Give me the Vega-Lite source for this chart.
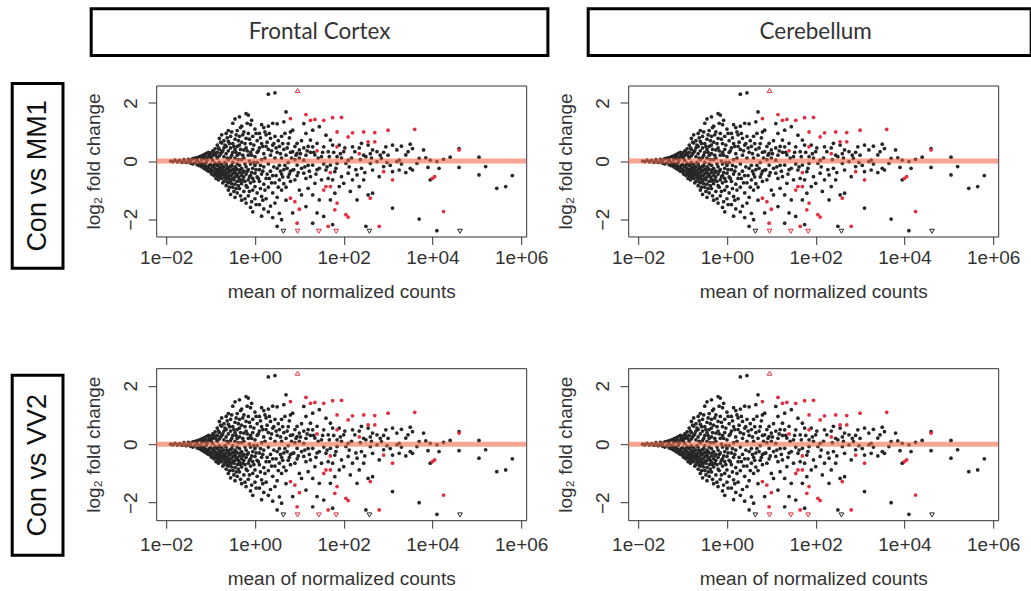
{
  "$schema": "https://vega.github.io/schema/vega-lite/v6.json",
  "background": "white",
  "padding": {"left": 10.2, "top": 6.8, "right": 0, "bottom": 0},
  "config": {
    "view": {"stroke": null},
    "axis": {"labelFont": "Liberation Sans", "titleFont": "Liberation Sans", "labelFontSize": 19, "titleFontSize": 19, "titleFontWeight": "normal", "labelColor": "#333", "titleColor": "#333", "tickColor": "#333", "tickSize": 8, "tickWidth": 1, "domain": false, "grid": false, "labelFlush": false, "labelOverlap": false}
  },
  "datasets": {
    "ma": [
      {"mean":0.0126,"lfc":0,"sig":"no"},{"mean":0.0141,"lfc":-0.02,"sig":"no"},{"mean":0.0158,"lfc":0.03,"sig":"no"},{"mean":0.0178,"lfc":-0.03,"sig":"no"},{"mean":0.02,"lfc":0.02,"sig":"no"},{"mean":0.0224,"lfc":-0.04,"sig":"no"},{"mean":0.0251,"lfc":0.05,"sig":"no"},{"mean":0.0251,"lfc":-0.02,"sig":"no"},{"mean":0.0282,"lfc":-0.05,"sig":"no"},{"mean":0.0316,"lfc":0.06,"sig":"no"},{"mean":0.0316,"lfc":-0.03,"sig":"no"},{"mean":0.0355,"lfc":-0.07,"sig":"no"},{"mean":0.0355,"lfc":0.03,"sig":"no"},{"mean":0.0398,"lfc":0.08,"sig":"no"},{"mean":0.0398,"lfc":-0.1,"sig":"no"},{"mean":0.0447,"lfc":0.1,"sig":"no"},{"mean":0.0447,"lfc":-0.05,"sig":"no"},{"mean":0.0501,"lfc":-0.13,"sig":"no"},{"mean":0.0501,"lfc":0.12,"sig":"no"},{"mean":0.0501,"lfc":0.02,"sig":"no"},
      {"mean":0.0562,"lfc":0.15,"sig":"no"},{"mean":0.0562,"lfc":-0.16,"sig":"no"},{"mean":0.0562,"lfc":-0.06,"sig":"no"},{"mean":0.0631,"lfc":0.18,"sig":"no"},{"mean":0.0631,"lfc":-0.2,"sig":"no"},{"mean":0.0631,"lfc":0.05,"sig":"no"},{"mean":0.0631,"lfc":-0.1,"sig":"no"},{"mean":0.0708,"lfc":0.22,"sig":"no"},{"mean":0.0708,"lfc":-0.25,"sig":"no"},{"mean":0.0708,"lfc":-0.14,"sig":"no"},{"mean":0.0708,"lfc":0.1,"sig":"no"},{"mean":0.0794,"lfc":0.26,"sig":"no"},{"mean":0.0794,"lfc":-0.3,"sig":"no"},{"mean":0.0794,"lfc":-0.18,"sig":"no"},{"mean":0.0794,"lfc":0.06,"sig":"no"},{"mean":0.0794,"lfc":-0.05,"sig":"no"},{"mean":0.0891,"lfc":0.3,"sig":"no"},{"mean":0.0891,"lfc":-0.22,"sig":"no"},{"mean":0.0891,"lfc":0.15,"sig":"no"},{"mean":0.0891,"lfc":-0.35,"sig":"no"},
      {"mean":0.1,"lfc":0.28,"sig":"no"},{"mean":0.1,"lfc":0.12,"sig":"no"},{"mean":0.1,"lfc":-0.12,"sig":"no"},{"mean":0.1,"lfc":-0.28,"sig":"no"},{"mean":0.1,"lfc":-0.38,"sig":"no"},{"mean":0.112,"lfc":0.35,"sig":"no"},{"mean":0.112,"lfc":0.2,"sig":"no"},{"mean":0.112,"lfc":-0.2,"sig":"no"},{"mean":0.112,"lfc":-0.33,"sig":"no"},{"mean":0.112,"lfc":0.02,"sig":"no"},{"mean":0.126,"lfc":0.42,"sig":"no"},{"mean":0.126,"lfc":0.25,"sig":"no"},{"mean":0.126,"lfc":-0.08,"sig":"no"},{"mean":0.126,"lfc":-0.25,"sig":"no"},{"mean":0.126,"lfc":-0.4,"sig":"no"},{"mean":0.126,"lfc":-0.45,"sig":"no"},{"mean":0.141,"lfc":0.55,"sig":"no"},{"mean":0.141,"lfc":0.3,"sig":"no"},{"mean":0.141,"lfc":0.1,"sig":"no"},{"mean":0.141,"lfc":-0.15,"sig":"no"},{"mean":0.141,"lfc":-0.3,"sig":"no"},{"mean":0.141,"lfc":-0.5,"sig":"no"},
      {"mean":0.158,"lfc":0.78,"sig":"no"},{"mean":0.158,"lfc":0.4,"sig":"no"},{"mean":0.158,"lfc":0.18,"sig":"no"},{"mean":0.158,"lfc":-0.05,"sig":"no"},{"mean":0.158,"lfc":-0.22,"sig":"no"},{"mean":0.158,"lfc":-0.35,"sig":"no"},{"mean":0.158,"lfc":-0.55,"sig":"no"},{"mean":0.178,"lfc":0.9,"sig":"no"},{"mean":0.178,"lfc":0.62,"sig":"no"},{"mean":0.178,"lfc":0.3,"sig":"no"},{"mean":0.178,"lfc":-0.12,"sig":"no"},{"mean":0.178,"lfc":-0.28,"sig":"no"},{"mean":0.178,"lfc":-0.42,"sig":"no"},{"mean":0.178,"lfc":-0.6,"sig":"no"},{"mean":0.2,"lfc":0.7,"sig":"no"},{"mean":0.2,"lfc":0.45,"sig":"no"},{"mean":0.2,"lfc":0.15,"sig":"no"},{"mean":0.2,"lfc":-0.2,"sig":"no"},{"mean":0.2,"lfc":-0.35,"sig":"no"},{"mean":0.2,"lfc":-0.5,"sig":"no"},{"mean":0.2,"lfc":-0.7,"sig":"no"},
      {"mean":0.224,"lfc":0.95,"sig":"no"},{"mean":0.224,"lfc":0.5,"sig":"no"},{"mean":0.224,"lfc":0.25,"sig":"no"},{"mean":0.224,"lfc":-0.1,"sig":"no"},{"mean":0.224,"lfc":-0.3,"sig":"no"},{"mean":0.224,"lfc":-0.45,"sig":"no"},{"mean":0.224,"lfc":-0.62,"sig":"no"},{"mean":0.224,"lfc":-0.85,"sig":"no"},{"mean":0.251,"lfc":1.05,"sig":"no"},{"mean":0.251,"lfc":0.68,"sig":"no"},{"mean":0.251,"lfc":0.35,"sig":"no"},{"mean":0.251,"lfc":0.05,"sig":"no"},{"mean":0.251,"lfc":-0.25,"sig":"no"},{"mean":0.251,"lfc":-0.4,"sig":"no"},{"mean":0.251,"lfc":-0.55,"sig":"no"},{"mean":0.251,"lfc":-0.75,"sig":"no"},{"mean":0.251,"lfc":-1.0,"sig":"no"},
      {"mean":0.282,"lfc":0.85,"sig":"no"},{"mean":0.282,"lfc":0.45,"sig":"no"},{"mean":0.282,"lfc":0.12,"sig":"no"},{"mean":0.282,"lfc":-0.18,"sig":"no"},{"mean":0.282,"lfc":-0.32,"sig":"no"},{"mean":0.282,"lfc":-0.5,"sig":"no"},{"mean":0.282,"lfc":-0.68,"sig":"no"},{"mean":0.282,"lfc":-1.15,"sig":"no"},{"mean":0.316,"lfc":1.3,"sig":"no"},{"mean":0.316,"lfc":0.6,"sig":"no"},{"mean":0.316,"lfc":0.3,"sig":"no"},{"mean":0.316,"lfc":-0.05,"sig":"no"},{"mean":0.316,"lfc":-0.28,"sig":"no"},{"mean":0.316,"lfc":-0.42,"sig":"no"},{"mean":0.316,"lfc":-0.6,"sig":"no"},{"mean":0.316,"lfc":-0.9,"sig":"no"},
      {"mean":0.355,"lfc":1.45,"sig":"no"},{"mean":0.355,"lfc":0.75,"sig":"no"},{"mean":0.355,"lfc":0.4,"sig":"no"},{"mean":0.355,"lfc":0.1,"sig":"no"},{"mean":0.355,"lfc":-0.2,"sig":"no"},{"mean":0.355,"lfc":-0.38,"sig":"no"},{"mean":0.355,"lfc":-0.55,"sig":"no"},{"mean":0.355,"lfc":-0.8,"sig":"no"},{"mean":0.355,"lfc":-1.25,"sig":"no"},{"mean":0.398,"lfc":1.05,"sig":"no"},{"mean":0.398,"lfc":0.5,"sig":"no"},{"mean":0.398,"lfc":0.2,"sig":"no"},{"mean":0.398,"lfc":-0.1,"sig":"no"},{"mean":0.398,"lfc":-0.3,"sig":"no"},{"mean":0.398,"lfc":-0.48,"sig":"no"},{"mean":0.398,"lfc":-0.7,"sig":"no"},{"mean":0.398,"lfc":-1.1,"sig":"no"},
      {"mean":0.447,"lfc":1.52,"sig":"no"},{"mean":0.447,"lfc":0.85,"sig":"no"},{"mean":0.447,"lfc":0.55,"sig":"no"},{"mean":0.447,"lfc":0.25,"sig":"no"},{"mean":0.447,"lfc":-0.15,"sig":"no"},{"mean":0.447,"lfc":-0.4,"sig":"no"},{"mean":0.447,"lfc":-0.62,"sig":"no"},{"mean":0.447,"lfc":-0.95,"sig":"no"},{"mean":0.501,"lfc":1.2,"sig":"no"},{"mean":0.501,"lfc":0.65,"sig":"no"},{"mean":0.501,"lfc":0.05,"sig":"no"},{"mean":0.501,"lfc":-0.25,"sig":"no"},{"mean":0.501,"lfc":-0.5,"sig":"no"},{"mean":0.501,"lfc":-0.78,"sig":"no"},{"mean":0.501,"lfc":-1.35,"sig":"no"},
      {"mean":0.562,"lfc":1.0,"sig":"no"},{"mean":0.562,"lfc":0.38,"sig":"no"},{"mean":0.562,"lfc":0.1,"sig":"no"},{"mean":0.562,"lfc":-0.35,"sig":"no"},{"mean":0.562,"lfc":-0.55,"sig":"no"},{"mean":0.562,"lfc":-1.05,"sig":"no"},{"mean":0.631,"lfc":1.63,"sig":"no"},{"mean":0.631,"lfc":0.78,"sig":"no"},{"mean":0.631,"lfc":0.45,"sig":"no"},{"mean":0.631,"lfc":-0.2,"sig":"no"},{"mean":0.631,"lfc":-0.45,"sig":"no"},{"mean":0.631,"lfc":-0.85,"sig":"no"},{"mean":0.631,"lfc":-1.45,"sig":"no"},{"mean":0.708,"lfc":1.58,"sig":"no"},{"mean":0.708,"lfc":0.95,"sig":"no"},{"mean":0.708,"lfc":0.2,"sig":"no"},{"mean":0.708,"lfc":-0.3,"sig":"no"},{"mean":0.708,"lfc":-0.65,"sig":"no"},{"mean":0.708,"lfc":-1.2,"sig":"no"},
      {"mean":0.794,"lfc":1.25,"sig":"no"},{"mean":0.794,"lfc":0.6,"sig":"no"},{"mean":0.794,"lfc":0.3,"sig":"no"},{"mean":0.794,"lfc":-0.1,"sig":"no"},{"mean":0.794,"lfc":-0.5,"sig":"no"},{"mean":0.794,"lfc":-0.75,"sig":"no"},{"mean":0.794,"lfc":-1.6,"sig":"no"},{"mean":0.891,"lfc":0.85,"sig":"no"},{"mean":0.891,"lfc":0.4,"sig":"no"},{"mean":0.891,"lfc":-0.25,"sig":"no"},{"mean":0.891,"lfc":-0.6,"sig":"no"},{"mean":0.891,"lfc":-1.0,"sig":"no"},{"mean":0.891,"lfc":-1.75,"sig":"no"},{"mean":1,"lfc":1.1,"sig":"no"},{"mean":1,"lfc":0.15,"sig":"no"},{"mean":1,"lfc":-0.15,"sig":"no"},{"mean":1,"lfc":-0.42,"sig":"no"},{"mean":1,"lfc":-0.88,"sig":"no"},{"mean":1,"lfc":-1.3,"sig":"no"},
      {"mean":1.12,"lfc":0.7,"sig":"no"},{"mean":1.12,"lfc":0.3,"sig":"no"},{"mean":1.12,"lfc":-0.05,"sig":"no"},{"mean":1.12,"lfc":-0.55,"sig":"no"},{"mean":1.12,"lfc":-1.1,"sig":"no"},{"mean":1.26,"lfc":0.95,"sig":"no"},{"mean":1.26,"lfc":0.45,"sig":"no"},{"mean":1.26,"lfc":-0.3,"sig":"no"},{"mean":1.26,"lfc":-0.7,"sig":"no"},{"mean":1.26,"lfc":-1.5,"sig":"no"},{"mean":1.41,"lfc":1.25,"sig":"no"},{"mean":1.41,"lfc":0.6,"sig":"no"},{"mean":1.41,"lfc":0.05,"sig":"no"},{"mean":1.41,"lfc":-0.45,"sig":"no"},{"mean":1.41,"lfc":-1.22,"sig":"no"},{"mean":1.41,"lfc":-1.9,"sig":"no"},{"mean":1.58,"lfc":1.15,"sig":"no"},{"mean":1.58,"lfc":0.25,"sig":"no"},{"mean":1.58,"lfc":-0.2,"sig":"no"},{"mean":1.58,"lfc":-0.8,"sig":"no"},{"mean":1.58,"lfc":-1.65,"sig":"no"},
      {"mean":1.78,"lfc":0.9,"sig":"no"},{"mean":1.78,"lfc":0.5,"sig":"no"},{"mean":1.78,"lfc":-0.6,"sig":"no"},{"mean":1.78,"lfc":-1.3,"sig":"no"},{"mean":2,"lfc":2.3,"sig":"no"},{"mean":2,"lfc":1.2,"sig":"no"},{"mean":2,"lfc":0.4,"sig":"no"},{"mean":2,"lfc":-0.1,"sig":"no"},{"mean":2,"lfc":-0.9,"sig":"no"},{"mean":2,"lfc":-1.75,"sig":"no"},{"mean":2.24,"lfc":0.78,"sig":"no"},{"mean":2.24,"lfc":0.2,"sig":"no"},{"mean":2.24,"lfc":-0.35,"sig":"no"},{"mean":2.24,"lfc":-1.55,"sig":"no"},{"mean":2.51,"lfc":1.3,"sig":"no"},{"mean":2.51,"lfc":0.55,"sig":"no"},{"mean":2.51,"lfc":-0.5,"sig":"no"},{"mean":2.51,"lfc":-1.1,"sig":"no"},{"mean":2.51,"lfc":-1.95,"sig":"no"},
      {"mean":2.82,"lfc":2.35,"sig":"no"},{"mean":2.82,"lfc":0.85,"sig":"no"},{"mean":2.82,"lfc":0.1,"sig":"no"},{"mean":2.82,"lfc":-0.75,"sig":"no"},{"mean":2.82,"lfc":-1.45,"sig":"no"},{"mean":3.16,"lfc":1.28,"sig":"no"},{"mean":3.16,"lfc":0.3,"sig":"no"},{"mean":3.16,"lfc":-0.25,"sig":"no"},{"mean":3.16,"lfc":-1.25,"sig":"no"},{"mean":3.16,"lfc":-2.25,"sig":"no"},{"mean":3.55,"lfc":0.5,"sig":"no"},{"mean":3.55,"lfc":-0.15,"sig":"no"},{"mean":3.55,"lfc":-0.65,"sig":"no"},{"mean":3.55,"lfc":-1.8,"sig":"no"},{"mean":3.98,"lfc":0.85,"sig":"no"},{"mean":3.98,"lfc":0.1,"sig":"no"},{"mean":3.98,"lfc":-0.45,"sig":"no"},{"mean":3.98,"lfc":-1.0,"sig":"no"},{"mean":3.98,"lfc":-2.02,"sig":"no"},
      {"mean":4.47,"lfc":1.35,"sig":"no"},{"mean":4.47,"lfc":0.4,"sig":"no"},{"mean":4.47,"lfc":-0.3,"sig":"no"},{"mean":4.47,"lfc":-0.78,"sig":"no"},{"mean":5.01,"lfc":1.69,"sig":"no"},{"mean":5.01,"lfc":0.2,"sig":"no"},{"mean":5.01,"lfc":-0.9,"sig":"no"},{"mean":5.01,"lfc":-1.35,"sig":"no"},{"mean":5.62,"lfc":0.6,"sig":"no"},{"mean":5.62,"lfc":-0.05,"sig":"no"},{"mean":5.62,"lfc":-0.55,"sig":"no"},{"mean":6.31,"lfc":1.0,"sig":"no"},{"mean":6.31,"lfc":0.3,"sig":"no"},{"mean":6.31,"lfc":-0.35,"sig":"no"},{"mean":6.31,"lfc":-0.7,"sig":"no"},{"mean":7.08,"lfc":1.06,"sig":"no"},{"mean":7.08,"lfc":0.32,"sig":"no"},{"mean":7.08,"lfc":-0.31,"sig":"no"},{"mean":7.08,"lfc":-1.79,"sig":"no"},
      {"mean":7.94,"lfc":0.5,"sig":"no"},{"mean":7.94,"lfc":0.05,"sig":"no"},{"mean":7.94,"lfc":-0.65,"sig":"no"},{"mean":8.91,"lfc":0.61,"sig":"no"},{"mean":8.91,"lfc":0.26,"sig":"no"},{"mean":8.91,"lfc":-0.14,"sig":"no"},{"mean":8.91,"lfc":-0.5,"sig":"no"},{"mean":10,"lfc":0.38,"sig":"no"},{"mean":10,"lfc":-1.0,"sig":"no"},{"mean":10,"lfc":0.1,"sig":"no"},{"mean":11.2,"lfc":0.7,"sig":"no"},{"mean":11.2,"lfc":-0.25,"sig":"no"},{"mean":11.2,"lfc":-1.17,"sig":"no"},{"mean":12.6,"lfc":1.29,"sig":"no"},{"mean":12.6,"lfc":0.45,"sig":"no"},{"mean":12.6,"lfc":0.03,"sig":"no"},{"mean":12.6,"lfc":-0.42,"sig":"no"},
      {"mean":14.1,"lfc":0.95,"sig":"no"},{"mean":14.1,"lfc":0.2,"sig":"no"},{"mean":14.1,"lfc":-0.6,"sig":"no"},{"mean":14.1,"lfc":-1.57,"sig":"no"},{"mean":15.8,"lfc":0.5,"sig":"no"},{"mean":15.8,"lfc":-0.15,"sig":"no"},{"mean":15.8,"lfc":-0.94,"sig":"no"},{"mean":17.8,"lfc":0.72,"sig":"no"},{"mean":17.8,"lfc":0.3,"sig":"no"},{"mean":17.8,"lfc":-0.54,"sig":"no"},{"mean":20,"lfc":1.06,"sig":"no"},{"mean":20,"lfc":0.49,"sig":"no"},{"mean":20,"lfc":-0.14,"sig":"no"},{"mean":20,"lfc":-1.17,"sig":"no"},{"mean":20,"lfc":-2.14,"sig":"no"},{"mean":22.4,"lfc":0.21,"sig":"no"},{"mean":22.4,"lfc":-0.77,"sig":"no"},{"mean":25.1,"lfc":0.61,"sig":"no"},{"mean":25.1,"lfc":-0.3,"sig":"no"},{"mean":25.1,"lfc":-1.79,"sig":"no"},
      {"mean":28.2,"lfc":1.18,"sig":"no"},{"mean":28.2,"lfc":-0.25,"sig":"no"},{"mean":28.2,"lfc":-1.34,"sig":"no"},{"mean":31.6,"lfc":0.15,"sig":"no"},{"mean":31.6,"lfc":-0.65,"sig":"no"},{"mean":35.5,"lfc":0.49,"sig":"no"},{"mean":35.5,"lfc":-0.1,"sig":"no"},{"mean":35.5,"lfc":-1.91,"sig":"no"},{"mean":39.8,"lfc":0.89,"sig":"no"},{"mean":39.8,"lfc":-0.31,"sig":"no"},{"mean":44.7,"lfc":0.32,"sig":"no"},{"mean":44.7,"lfc":-0.6,"sig":"no"},{"mean":50.1,"lfc":-1.34,"sig":"no"},{"mean":50.1,"lfc":0.72,"sig":"no"},{"mean":50.1,"lfc":-0.14,"sig":"no"},{"mean":56.2,"lfc":-0.65,"sig":"no"},{"mean":56.2,"lfc":0.55,"sig":"no"},{"mean":56.2,"lfc":-2.19,"sig":"no"},
      {"mean":63.1,"lfc":-0.37,"sig":"no"},{"mean":63.1,"lfc":-1.11,"sig":"no"},{"mean":70.8,"lfc":0.15,"sig":"no"},{"mean":70.8,"lfc":-0.08,"sig":"no"},{"mean":79.4,"lfc":0.55,"sig":"no"},{"mean":79.4,"lfc":-0.88,"sig":"no"},{"mean":89.1,"lfc":-0.54,"sig":"no"},{"mean":89.1,"lfc":0.1,"sig":"no"},{"mean":100,"lfc":0.32,"sig":"no"},{"mean":100,"lfc":-0.77,"sig":"no"},{"mean":112,"lfc":-0.08,"sig":"no"},{"mean":126,"lfc":-0.42,"sig":"no"},{"mean":126,"lfc":0.03,"sig":"no"},{"mean":141,"lfc":-1.05,"sig":"no"},{"mean":158,"lfc":0.49,"sig":"no"},{"mean":158,"lfc":-0.65,"sig":"no"},{"mean":178,"lfc":0.32,"sig":"no"},{"mean":200,"lfc":-0.48,"sig":"no"},{"mean":200,"lfc":-1.34,"sig":"no"},
      {"mean":224,"lfc":-0.88,"sig":"no"},{"mean":224,"lfc":0.45,"sig":"no"},{"mean":251,"lfc":0.61,"sig":"no"},{"mean":251,"lfc":-0.25,"sig":"no"},{"mean":282,"lfc":-0.65,"sig":"no"},{"mean":282,"lfc":0.2,"sig":"no"},{"mean":316,"lfc":0.15,"sig":"no"},{"mean":316,"lfc":-2.25,"sig":"no"},{"mean":355,"lfc":0.55,"sig":"no"},{"mean":355,"lfc":-1.17,"sig":"no"},{"mean":398,"lfc":-0.08,"sig":"no"},{"mean":398,"lfc":0.25,"sig":"no"},{"mean":447,"lfc":-0.31,"sig":"no"},{"mean":447,"lfc":0.38,"sig":"no"},{"mean":447,"lfc":-1.11,"sig":"no"},{"mean":562,"lfc":0.32,"sig":"no"},{"mean":562,"lfc":-0.02,"sig":"no"},{"mean":631,"lfc":-0.54,"sig":"no"},{"mean":708,"lfc":0.09,"sig":"no"},{"mean":794,"lfc":-0.19,"sig":"no"},{"mean":794,"lfc":0.3,"sig":"no"},{"mean":891,"lfc":0.49,"sig":"no"},
      {"mean":1000,"lfc":0.2,"sig":"no"},{"mean":1120,"lfc":-0.15,"sig":"no"},{"mean":1260,"lfc":0.55,"sig":"no"},{"mean":1260,"lfc":-0.37,"sig":"no"},{"mean":1260,"lfc":-1.62,"sig":"no"},{"mean":1580,"lfc":0.38,"sig":"no"},{"mean":1580,"lfc":-0.02,"sig":"no"},{"mean":1780,"lfc":0.03,"sig":"no"},{"mean":1780,"lfc":-0.31,"sig":"no"},{"mean":2000,"lfc":0.51,"sig":"no"},{"mean":2000,"lfc":-0.1,"sig":"no"},{"mean":2510,"lfc":0.21,"sig":"no"},{"mean":2510,"lfc":-0.4,"sig":"no"},{"mean":2820,"lfc":0.32,"sig":"no"},{"mean":3160,"lfc":0.58,"sig":"no"},{"mean":3160,"lfc":-0.25,"sig":"no"},{"mean":3550,"lfc":0.43,"sig":"no"},{"mean":3550,"lfc":-0.31,"sig":"no"},{"mean":4470,"lfc":-0.08,"sig":"no"},{"mean":5010,"lfc":0.09,"sig":"no"},{"mean":5010,"lfc":-2.0,"sig":"no"},
      {"mean":6310,"lfc":0.38,"sig":"no"},{"mean":7080,"lfc":0.11,"sig":"no"},{"mean":7940,"lfc":-0.22,"sig":"no"},{"mean":8910,"lfc":0.03,"sig":"no"},{"mean":8910,"lfc":-0.65,"sig":"no"},{"mean":12600,"lfc":-0.02,"sig":"no"},{"mean":12600,"lfc":-2.4,"sig":"no"},{"mean":14100,"lfc":-0.25,"sig":"no"},{"mean":17800,"lfc":0.06,"sig":"no"},{"mean":25100,"lfc":0.13,"sig":"no"},{"mean":39800,"lfc":0.43,"sig":"no"},{"mean":39800,"lfc":-0.22,"sig":"no"},{"mean":112000,"lfc":0.13,"sig":"no"},{"mean":112000,"lfc":-0.48,"sig":"no"},{"mean":158000,"lfc":-0.19,"sig":"no"},{"mean":282000,"lfc":-0.94,"sig":"no"},{"mean":447000,"lfc":-0.88,"sig":"no"},{"mean":631000,"lfc":-0.5,"sig":"no"},
      {"mean":0.067,"lfc":-0.08,"sig":"no"},{"mean":0.067,"lfc":0.12,"sig":"no"},{"mean":0.075,"lfc":-0.2,"sig":"no"},{"mean":0.075,"lfc":0.16,"sig":"no"},{"mean":0.084,"lfc":-0.26,"sig":"no"},{"mean":0.084,"lfc":0.04,"sig":"no"},{"mean":0.094,"lfc":-0.15,"sig":"no"},{"mean":0.094,"lfc":0.22,"sig":"no"},{"mean":0.106,"lfc":-0.32,"sig":"no"},{"mean":0.106,"lfc":0.08,"sig":"no"},{"mean":0.106,"lfc":-0.45,"sig":"no"},{"mean":0.119,"lfc":0.3,"sig":"no"},{"mean":0.119,"lfc":-0.15,"sig":"no"},{"mean":0.119,"lfc":-0.5,"sig":"no"},{"mean":0.133,"lfc":0.18,"sig":"no"},{"mean":0.133,"lfc":-0.35,"sig":"no"},{"mean":0.133,"lfc":-0.6,"sig":"no"},{"mean":0.15,"lfc":0.45,"sig":"no"},{"mean":0.15,"lfc":-0.1,"sig":"no"},{"mean":0.15,"lfc":-0.42,"sig":"no"},{"mean":0.15,"lfc":-0.65,"sig":"no"},
      {"mean":0.168,"lfc":0.25,"sig":"no"},{"mean":0.168,"lfc":-0.3,"sig":"no"},{"mean":0.168,"lfc":-0.5,"sig":"no"},{"mean":0.168,"lfc":0.65,"sig":"no"},{"mean":0.188,"lfc":-0.22,"sig":"no"},{"mean":0.188,"lfc":-0.45,"sig":"no"},{"mean":0.188,"lfc":-0.75,"sig":"no"},{"mean":0.188,"lfc":0.35,"sig":"no"},{"mean":0.211,"lfc":0.55,"sig":"no"},{"mean":0.211,"lfc":-0.05,"sig":"no"},{"mean":0.211,"lfc":-0.4,"sig":"no"},{"mean":0.211,"lfc":-0.58,"sig":"no"},{"mean":0.237,"lfc":0.8,"sig":"no"},{"mean":0.237,"lfc":0.1,"sig":"no"},{"mean":0.237,"lfc":-0.2,"sig":"no"},{"mean":0.237,"lfc":-0.5,"sig":"no"},{"mean":0.237,"lfc":-0.72,"sig":"no"},
      {"mean":0.266,"lfc":0.6,"sig":"no"},{"mean":0.266,"lfc":-0.35,"sig":"no"},{"mean":0.266,"lfc":-0.62,"sig":"no"},{"mean":0.266,"lfc":-0.9,"sig":"no"},{"mean":0.299,"lfc":1.0,"sig":"no"},{"mean":0.299,"lfc":0.2,"sig":"no"},{"mean":0.299,"lfc":-0.15,"sig":"no"},{"mean":0.299,"lfc":-0.48,"sig":"no"},{"mean":0.299,"lfc":-0.78,"sig":"no"},{"mean":0.335,"lfc":0.5,"sig":"no"},{"mean":0.335,"lfc":-0.3,"sig":"no"},{"mean":0.335,"lfc":-0.65,"sig":"no"},{"mean":0.335,"lfc":-1.05,"sig":"no"},{"mean":0.376,"lfc":0.9,"sig":"no"},{"mean":0.376,"lfc":0.3,"sig":"no"},{"mean":0.376,"lfc":-0.25,"sig":"no"},{"mean":0.376,"lfc":-0.45,"sig":"no"},{"mean":0.376,"lfc":-0.95,"sig":"no"},
      {"mean":0.422,"lfc":0.7,"sig":"no"},{"mean":0.422,"lfc":0.05,"sig":"no"},{"mean":0.422,"lfc":-0.55,"sig":"no"},{"mean":0.422,"lfc":-0.85,"sig":"no"},{"mean":0.473,"lfc":1.15,"sig":"no"},{"mean":0.473,"lfc":0.4,"sig":"no"},{"mean":0.473,"lfc":-0.3,"sig":"no"},{"mean":0.473,"lfc":-0.7,"sig":"no"},{"mean":0.473,"lfc":-1.2,"sig":"no"},{"mean":0.531,"lfc":0.9,"sig":"no"},{"mean":0.531,"lfc":0.2,"sig":"no"},{"mean":0.531,"lfc":-0.4,"sig":"no"},{"mean":0.531,"lfc":-0.65,"sig":"no"},{"mean":0.596,"lfc":0.6,"sig":"no"},{"mean":0.596,"lfc":-0.1,"sig":"no"},{"mean":0.596,"lfc":-0.7,"sig":"no"},{"mean":0.596,"lfc":-1.3,"sig":"no"},
      {"mean":0.668,"lfc":1.3,"sig":"no"},{"mean":0.668,"lfc":0.35,"sig":"no"},{"mean":0.668,"lfc":-0.35,"sig":"no"},{"mean":0.668,"lfc":-0.9,"sig":"no"},{"mean":0.75,"lfc":0.75,"sig":"no"},{"mean":0.75,"lfc":0.0,"sig":"no"},{"mean":0.75,"lfc":-0.55,"sig":"no"},{"mean":0.75,"lfc":-1.05,"sig":"no"},{"mean":0.841,"lfc":1.4,"sig":"no"},{"mean":0.841,"lfc":0.2,"sig":"no"},{"mean":0.841,"lfc":-0.4,"sig":"no"},{"mean":0.841,"lfc":-1.4,"sig":"no"},{"mean":0.944,"lfc":0.55,"sig":"no"},{"mean":0.944,"lfc":-0.05,"sig":"no"},{"mean":0.944,"lfc":-0.7,"sig":"no"},{"mean":1.06,"lfc":0.95,"sig":"no"},{"mean":1.06,"lfc":-0.3,"sig":"no"},{"mean":1.06,"lfc":-1.5,"sig":"no"},
      {"mean":1.19,"lfc":0.35,"sig":"no"},{"mean":1.19,"lfc":-0.6,"sig":"no"},{"mean":1.33,"lfc":0.8,"sig":"no"},{"mean":1.33,"lfc":-0.15,"sig":"no"},{"mean":1.33,"lfc":-0.95,"sig":"no"},{"mean":1.5,"lfc":0.5,"sig":"no"},{"mean":1.5,"lfc":-0.35,"sig":"no"},{"mean":1.5,"lfc":-1.35,"sig":"no"},{"mean":1.68,"lfc":1.0,"sig":"no"},{"mean":1.68,"lfc":0.1,"sig":"no"},{"mean":1.68,"lfc":-1.0,"sig":"no"},{"mean":1.88,"lfc":0.65,"sig":"no"},{"mean":1.88,"lfc":-0.45,"sig":"no"},{"mean":2.11,"lfc":0.95,"sig":"no"},{"mean":2.11,"lfc":-0.6,"sig":"no"},{"mean":2.37,"lfc":0.35,"sig":"no"},{"mean":2.37,"lfc":-0.75,"sig":"no"},{"mean":2.66,"lfc":-0.2,"sig":"no"},{"mean":2.66,"lfc":0.6,"sig":"no"},
      {"mean":2.99,"lfc":-0.5,"sig":"no"},{"mean":2.99,"lfc":0.45,"sig":"no"},{"mean":3.35,"lfc":-0.9,"sig":"no"},{"mean":3.35,"lfc":0.7,"sig":"no"},{"mean":3.76,"lfc":0.25,"sig":"no"},{"mean":3.76,"lfc":-0.35,"sig":"no"},{"mean":4.22,"lfc":0.6,"sig":"no"},{"mean":4.22,"lfc":-0.55,"sig":"no"},{"mean":4.73,"lfc":-0.15,"sig":"no"},{"mean":4.73,"lfc":0.95,"sig":"no"},{"mean":5.3,"lfc":0.45,"sig":"no"},{"mean":5.3,"lfc":-0.25,"sig":"no"},{"mean":5.96,"lfc":-0.45,"sig":"no"},{"mean":5.96,"lfc":0.8,"sig":"no"},{"mean":6.68,"lfc":0.1,"sig":"no"},{"mean":7.5,"lfc":-0.3,"sig":"no"},{"mean":8.41,"lfc":0.2,"sig":"no"},{"mean":9.44,"lfc":-0.4,"sig":"no"},{"mean":10.6,"lfc":0.25,"sig":"no"},{"mean":13.3,"lfc":-0.2,"sig":"no"},
      {"mean":15,"lfc":0.35,"sig":"no"},{"mean":16.8,"lfc":-0.35,"sig":"no"},{"mean":21.1,"lfc":0.3,"sig":"no"},{"mean":23.7,"lfc":-0.45,"sig":"no"},{"mean":26.6,"lfc":0.1,"sig":"no"},{"mean":33.5,"lfc":0.3,"sig":"no"},{"mean":42.2,"lfc":-0.2,"sig":"no"},{"mean":47.3,"lfc":0.15,"sig":"no"},{"mean":59.6,"lfc":0.3,"sig":"no"},{"mean":66.8,"lfc":-0.25,"sig":"no"},{"mean":84.1,"lfc":0.25,"sig":"no"},{"mean":106,"lfc":0.45,"sig":"no"},{"mean":133,"lfc":-0.2,"sig":"no"},{"mean":150,"lfc":0.1,"sig":"no"},{"mean":188,"lfc":-0.3,"sig":"no"},{"mean":237,"lfc":0.05,"sig":"no"},{"mean":299,"lfc":-0.4,"sig":"no"},{"mean":422,"lfc":0.1,"sig":"no"},{"mean":668,"lfc":0.2,"sig":"no"},{"mean":944,"lfc":-0.05,"sig":"no"},
      {"mean":6.31,"lfc":1.46,"sig":"yes"},{"mean":14.1,"lfc":1.6,"sig":"yes"},{"mean":17.8,"lfc":1.4,"sig":"yes"},{"mean":22.4,"lfc":1.43,"sig":"yes"},{"mean":35.5,"lfc":1.4,"sig":"yes"},{"mean":56.2,"lfc":1.49,"sig":"yes"},{"mean":89.1,"lfc":1.5,"sig":"yes"},{"mean":158,"lfc":0.97,"sig":"yes"},{"mean":282,"lfc":1.0,"sig":"yes"},{"mean":501,"lfc":0.98,"sig":"yes"},{"mean":1000,"lfc":1.06,"sig":"yes"},{"mean":3980,"lfc":1.09,"sig":"yes"},{"mean":70.8,"lfc":1.0,"sig":"yes"},{"mean":126,"lfc":0.83,"sig":"yes"},{"mean":355,"lfc":0.66,"sig":"yes"},{"mean":501,"lfc":0.66,"sig":"yes"},{"mean":70.8,"lfc":0.49,"sig":"yes"},{"mean":39800,"lfc":0.38,"sig":"yes"},{"mean":794,"lfc":-0.37,"sig":"yes"},{"mean":1260,"lfc":-0.65,"sig":"yes"},
      {"mean":10000,"lfc":-0.6,"sig":"yes"},{"mean":11200,"lfc":-0.54,"sig":"yes"},{"mean":39.8,"lfc":-0.88,"sig":"yes"},{"mean":50.1,"lfc":-0.88,"sig":"yes"},{"mean":35.5,"lfc":-1.0,"sig":"yes"},{"mean":6.31,"lfc":-1.28,"sig":"yes"},{"mean":7.94,"lfc":-1.4,"sig":"yes"},{"mean":10,"lfc":-1.66,"sig":"yes"},{"mean":70.8,"lfc":-1.45,"sig":"yes"},{"mean":63.1,"lfc":-1.68,"sig":"yes"},{"mean":112,"lfc":-1.85,"sig":"yes"},{"mean":126,"lfc":-1.93,"sig":"yes"},{"mean":398,"lfc":-1.28,"sig":"yes"},{"mean":631,"lfc":-2.25,"sig":"yes"},{"mean":17800,"lfc":-1.74,"sig":"yes"},{"mean":8.91,"lfc":-2.14,"sig":"yes"},{"mean":44.7,"lfc":-2.25,"sig":"yes"},{"mean":25.1,"lfc":0.35,"sig":"yes"},{"mean":224,"lfc":0.25,"sig":"yes"},{"mean":50.1,"lfc":-0.4,"sig":"yes"}
    ],
    "ma_out": [
      {"mean":4.37,"lfc":-2.42,"sig":"no","dir":"down"},{"mean":380,"lfc":-2.42,"sig":"no","dir":"down"},{"mean":41700,"lfc":-2.42,"sig":"no","dir":"down"},{"mean":9.12,"lfc":-2.42,"sig":"yes","dir":"down"},{"mean":27.5,"lfc":-2.42,"sig":"yes","dir":"down"},{"mean":67.6,"lfc":-2.42,"sig":"yes","dir":"down"},{"mean":9.12,"lfc":2.43,"sig":"yes","dir":"up"}
    ],
    "zero": [{"lfc":0}]
  },
  "bounds": "full",
  "spacing": 23.7,
  "vconcat": [
    {
      "bounds": "flush",
      "spacing": 40,
      "hconcat": [
        {"width": 38.8, "height": 46.7, "data": {"values": []}, "mark": "point", "encoding": {}},
        {"width": 456.7, "height": 46.7, "view": {"stroke": "#000", "strokeWidth": 3},
         "data": {"values": [{"t": "Frontal Cortex"}]},
         "mark": {"type": "text", "font": "Lato", "fontSize": 22.5, "color": "#333"},
         "encoding": {"text": {"field": "t"}, "x": {"field": "t", "type": "nominal", "axis": null}, "y": {"field": "t", "type": "nominal", "axis": null}}},
        {"width": 443, "height": 46.7, "view": {"stroke": "#000", "strokeWidth": 3},
         "data": {"values": [{"t": "Cerebellum"}]},
         "mark": {"type": "text", "font": "Lato", "fontSize": 22.5, "color": "#333", "dx": 6},
         "encoding": {"text": {"field": "t"}, "x": {"field": "t", "type": "nominal", "axis": null}, "y": {"field": "t", "type": "nominal", "axis": null}}}
      ]
    },
    {
      "bounds": "full",
      "spacing": 18,
      "hconcat": [
        {
          "bounds": "flush",
          "spacing": 106.8,
          "vconcat": [
            {"width": 50.8, "height": 184.8, "view": {"stroke": "#000", "strokeWidth": 3},
             "data": {"values": [{"t": "Con vs MM1"}]},
             "mark": {"type": "text", "font": "Liberation Sans", "fontSize": 27, "color": "#111", "angle": 270},
             "encoding": {"text": {"field": "t"}, "x": {"field": "t", "type": "nominal", "axis": null}, "y": {"field": "t", "type": "nominal", "axis": null}}},
            {"width": 50.8, "height": 180, "view": {"stroke": "#000", "strokeWidth": 3},
             "data": {"values": [{"t": "Con vs VV2"}]},
             "mark": {"type": "text", "font": "Liberation Sans", "fontSize": 27, "color": "#111", "angle": 270},
             "encoding": {"text": {"field": "t"}, "x": {"field": "t", "type": "nominal", "axis": null}, "y": {"field": "t", "type": "nominal", "axis": null}}}
          ]
        },
        {
          "bounds": "full",
          "spacing": 0,
          "vconcat": [
            {"width": 1, "height": 0.3, "data": {"values": []}, "mark": "point", "encoding": {}},
            {
              "bounds": "full",
              "spacing": 64.7,
              "vconcat": [
                {
                  "bounds": "flush",
                  "spacing": 102,
                  "hconcat": [
                    {"width": 370, "height": 151, "view": {"stroke": "#333", "strokeWidth": 1},
                     "layer": [
                       {"data": {"name": "ma"}, "mark": {"type": "point", "filled": true, "shape": "circle", "size": 14, "opacity": 1},
                        "encoding": {
                          "x": {"field": "mean", "type": "quantitative", "scale": {"type": "log", "domain": [0.00594, 1297000], "nice": false}, "axis": {"title": "mean of normalized counts", "values": [0.01, 1, 100, 10000, 1000000], "labelExpr": "datum.value < 0.1 ? '1e−02' : datum.value < 10 ? '1e+00' : datum.value < 1000 ? '1e+02' : datum.value < 100000 ? '1e+04' : '1e+06'", "labelPadding": 4, "titlePadding": 15}},
                          "y": {"field": "lfc", "type": "quantitative", "scale": {"domain": [-2.6, 2.6], "nice": false, "zero": false}, "axis": {"title": "log₂ fold change", "values": [-2, -1, 0, 1, 2], "labelExpr": "datum.value == -1 ? '' : datum.label", "labelAngle": 270, "labelPadding": 8, "titlePadding": 18}},
                          "color": {"field": "sig", "type": "nominal", "scale": {"domain": ["no", "yes"], "range": ["#262626", "#e03040"]}, "legend": null}}},
                       {"data": {"name": "ma_out"}, "mark": {"type": "point", "filled": false, "size": 22, "strokeWidth": 1, "opacity": 1},
                        "encoding": {"x": {"field": "mean", "type": "quantitative"}, "y": {"field": "lfc", "type": "quantitative"},
                          "shape": {"field": "dir", "type": "nominal", "scale": {"domain": ["down", "up"], "range": ["triangle-down", "triangle-up"]}, "legend": null},
                          "color": {"field": "sig", "type": "nominal", "legend": null}}},
                       {"data": {"name": "zero"}, "mark": {"type": "rule", "color": "#f06a4a", "strokeWidth": 5, "opacity": 0.6}, "encoding": {"y": {"field": "lfc", "type": "quantitative"}}}
                     ]},
                    {"width": 370, "height": 151, "view": {"stroke": "#333", "strokeWidth": 1},
                     "layer": [
                       {"data": {"name": "ma"}, "mark": {"type": "point", "filled": true, "shape": "circle", "size": 14, "opacity": 1},
                        "encoding": {
                          "x": {"field": "mean", "type": "quantitative", "scale": {"type": "log", "domain": [0.00594, 1297000], "nice": false}, "axis": {"title": "mean of normalized counts", "values": [0.01, 1, 100, 10000, 1000000], "labelExpr": "datum.value < 0.1 ? '1e−02' : datum.value < 10 ? '1e+00' : datum.value < 1000 ? '1e+02' : datum.value < 100000 ? '1e+04' : '1e+06'", "labelPadding": 4, "titlePadding": 15}},
                          "y": {"field": "lfc", "type": "quantitative", "scale": {"domain": [-2.6, 2.6], "nice": false, "zero": false}, "axis": {"title": "log₂ fold change", "values": [-2, -1, 0, 1, 2], "labelExpr": "datum.value == -1 ? '' : datum.label", "labelAngle": 270, "labelPadding": 8, "titlePadding": 18}},
                          "color": {"field": "sig", "type": "nominal", "scale": {"domain": ["no", "yes"], "range": ["#262626", "#e03040"]}, "legend": null}}},
                       {"data": {"name": "ma_out"}, "mark": {"type": "point", "filled": false, "size": 22, "strokeWidth": 1, "opacity": 1},
                        "encoding": {"x": {"field": "mean", "type": "quantitative"}, "y": {"field": "lfc", "type": "quantitative"},
                          "shape": {"field": "dir", "type": "nominal", "scale": {"domain": ["down", "up"], "range": ["triangle-down", "triangle-up"]}, "legend": null},
                          "color": {"field": "sig", "type": "nominal", "legend": null}}},
                       {"data": {"name": "zero"}, "mark": {"type": "rule", "color": "#f06a4a", "strokeWidth": 5, "opacity": 0.6}, "encoding": {"y": {"field": "lfc", "type": "quantitative"}}}
                     ]}
                  ]
                },
                {
                  "bounds": "flush",
                  "spacing": 102,
                  "hconcat": [
                    {"width": 370, "height": 152, "view": {"stroke": "#333", "strokeWidth": 1},
                     "layer": [
                       {"data": {"name": "ma"}, "mark": {"type": "point", "filled": true, "shape": "circle", "size": 14, "opacity": 1},
                        "encoding": {
                          "x": {"field": "mean", "type": "quantitative", "scale": {"type": "log", "domain": [0.00594, 1297000], "nice": false}, "axis": {"title": "mean of normalized counts", "values": [0.01, 1, 100, 10000, 1000000], "labelExpr": "datum.value < 0.1 ? '1e−02' : datum.value < 10 ? '1e+00' : datum.value < 1000 ? '1e+02' : datum.value < 100000 ? '1e+04' : '1e+06'", "labelPadding": 7, "titlePadding": 15}},
                          "y": {"field": "lfc", "type": "quantitative", "scale": {"domain": [-2.6, 2.6], "nice": false, "zero": false}, "axis": {"title": "log₂ fold change", "values": [-2, -1, 0, 1, 2], "labelExpr": "datum.value == -1 ? '' : datum.label", "labelAngle": 270, "labelPadding": 8, "titlePadding": 18}},
                          "color": {"field": "sig", "type": "nominal", "scale": {"domain": ["no", "yes"], "range": ["#262626", "#e03040"]}, "legend": null}}},
                       {"data": {"name": "ma_out"}, "mark": {"type": "point", "filled": false, "size": 22, "strokeWidth": 1, "opacity": 1},
                        "encoding": {"x": {"field": "mean", "type": "quantitative"}, "y": {"field": "lfc", "type": "quantitative"},
                          "shape": {"field": "dir", "type": "nominal", "scale": {"domain": ["down", "up"], "range": ["triangle-down", "triangle-up"]}, "legend": null},
                          "color": {"field": "sig", "type": "nominal", "legend": null}}},
                       {"data": {"name": "zero"}, "mark": {"type": "rule", "color": "#f06a4a", "strokeWidth": 5, "opacity": 0.6}, "encoding": {"y": {"field": "lfc", "type": "quantitative"}}}
                     ]},
                    {"width": 370, "height": 152, "view": {"stroke": "#333", "strokeWidth": 1},
                     "layer": [
                       {"data": {"name": "ma"}, "mark": {"type": "point", "filled": true, "shape": "circle", "size": 14, "opacity": 1},
                        "encoding": {
                          "x": {"field": "mean", "type": "quantitative", "scale": {"type": "log", "domain": [0.00594, 1297000], "nice": false}, "axis": {"title": "mean of normalized counts", "values": [0.01, 1, 100, 10000, 1000000], "labelExpr": "datum.value < 0.1 ? '1e−02' : datum.value < 10 ? '1e+00' : datum.value < 1000 ? '1e+02' : datum.value < 100000 ? '1e+04' : '1e+06'", "labelPadding": 7, "titlePadding": 15}},
                          "y": {"field": "lfc", "type": "quantitative", "scale": {"domain": [-2.6, 2.6], "nice": false, "zero": false}, "axis": {"title": "log₂ fold change", "values": [-2, -1, 0, 1, 2], "labelExpr": "datum.value == -1 ? '' : datum.label", "labelAngle": 270, "labelPadding": 8, "titlePadding": 18}},
                          "color": {"field": "sig", "type": "nominal", "scale": {"domain": ["no", "yes"], "range": ["#262626", "#e03040"]}, "legend": null}}},
                       {"data": {"name": "ma_out"}, "mark": {"type": "point", "filled": false, "size": 22, "strokeWidth": 1, "opacity": 1},
                        "encoding": {"x": {"field": "mean", "type": "quantitative"}, "y": {"field": "lfc", "type": "quantitative"},
                          "shape": {"field": "dir", "type": "nominal", "scale": {"domain": ["down", "up"], "range": ["triangle-down", "triangle-up"]}, "legend": null},
                          "color": {"field": "sig", "type": "nominal", "legend": null}}},
                       {"data": {"name": "zero"}, "mark": {"type": "rule", "color": "#f06a4a", "strokeWidth": 5, "opacity": 0.6}, "encoding": {"y": {"field": "lfc", "type": "quantitative"}}}
                     ]}
                  ]
                }
              ]
            }
          ]
        }
      ]
    }
  ]
}
